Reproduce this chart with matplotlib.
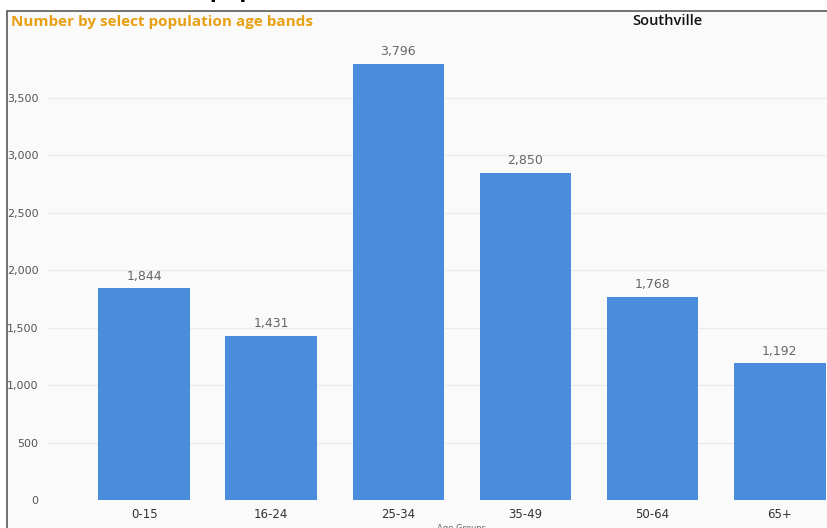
import matplotlib.pyplot as plt
from matplotlib.patches import Rectangle
from matplotlib.ticker  import FuncFormatter, MultipleLocator

age_groups = ['0-15', '16-24', '25-34', '35-49', '50-64', '65+']
counts     = [1844, 1431, 3796, 2850, 1768, 1192]

W, H = 827, 528
fig = plt.figure(figsize=(W / 100, H / 100), dpi=100)

def fx(px):
    return px / W

def fy(py):
    return 1 - py / H

# report page header, cut by the top of the canvas
fig.text(fx(33), fy(-3.5), 'Usual resident population 2021, Southville',
         fontsize=17, fontweight='bold', color='black', family='Open Sans',
         ha='left', va='baseline')

# visual panel with its border
fig.add_artist(Rectangle((fx(7), -0.1), 1.2, fy(11) + 0.1,
                         transform=fig.transFigure, facecolor='#fafafa',
                         edgecolor='#5a5a5a', linewidth=1.2, zorder=0))

fig.text(fx(11), fy(22), 'Number by select population age bands',
         fontsize=11.0, fontweight='bold', color='#e8a013', family='Open Sans',
         ha='left', va='center')
fig.text(fx(667), fy(21), 'Southville', fontsize=10.5, fontweight='semibold',
         color='#111111', family='Open Sans', ha='center', va='center')

ax_top, ax_bottom = 46.3, 500
ax = fig.add_axes([fx(48), fy(ax_bottom), fx(W - 48) + 0.001, (ax_bottom - ax_top) / H])
ax.set_facecolor('none')

x = range(len(age_groups))
bars = ax.bar(x, counts, width=0.72, color='#4a8ddc', zorder=3)

for xi, v in zip(x, counts):
    ax.annotate(f'{v:,}', (xi, v), xytext=(0, 4), textcoords='offset points',
                ha='center', va='bottom', fontsize=9, color='#666666',
                family='Liberation Sans Narrow')

ax.set_xlim(-0.756, 5.378)
ax.set_ylim(0, 3950)
ax.yaxis.set_major_locator(MultipleLocator(500))
ax.yaxis.set_major_formatter(FuncFormatter(lambda v, p: f'{v:,.0f}'))
ax.grid(axis='y', color='#ebebeb', linewidth=1, zorder=0)

ax.set_xticks(list(x))
ax.set_xticklabels(age_groups)
for s in ax.spines.values():
    s.set_visible(False)
ax.tick_params(length=0)
ax.tick_params(axis='y', pad=7, labelsize=8, labelcolor='#555555')
ax.tick_params(axis='x', pad=6, labelsize=8.5, labelcolor='#333333')
for lab in ax.get_xticklabels() + ax.get_yticklabels():
    lab.set_family('Liberation Sans Narrow')

ax.set_xlabel('Age Groups', fontsize=6, color='#666666')
ax.xaxis.set_label_coords(fx(461 - 48) / fx(W - 48), -24 / (ax_bottom - ax_top))

fig.savefig('out.png', dpi=100)
